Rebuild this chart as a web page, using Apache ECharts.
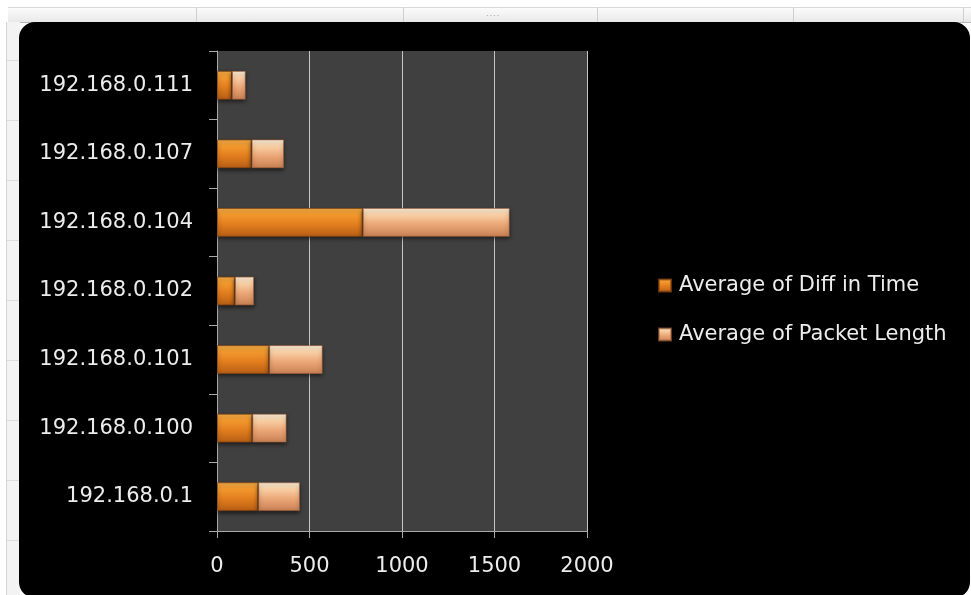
<!DOCTYPE html>
<html>
<head>
<meta charset="utf-8">
<script src="https://cdn.jsdelivr.net/npm/echarts@6/dist/echarts.min.js"></script>
<style>
  html, body { margin:0; padding:0; background:#ffffff; width:971px; height:595px; overflow:hidden; }
  .topband { position:absolute; left:8px; top:7px; width:963px; height:14px; background:linear-gradient(#fbfbfb,#e9e9e9); border-top:1px solid #d8d8d8; border-bottom:1px solid #b8b8b8; }
  .vl { position:absolute; top:7px; width:1px; height:15px; background:#cfcfcf; }
  .leftband { position:absolute; left:6px; top:22px; width:13px; height:573px; background:#f3f3f3; border-left:1px solid #d4d4d4; }
  .hl { position:absolute; left:7px; width:12px; height:1px; background:#dcdcdc; }
  .panel { position:absolute; left:19px; top:22px; width:951px; height:576px; background:#000; border-radius:16px; }
  .dots { position:absolute; left:486px; top:12px; font:8px "DejaVu Sans"; color:#999; letter-spacing:1px; }
  #chart { position:absolute; left:0; top:0; width:971px; height:595px; }
</style>
</head>
<body>
<div class="topband"></div>
<div class="vl" style="left:196px"></div>
<div class="vl" style="left:403px"></div>
<div class="vl" style="left:597px"></div>
<div class="vl" style="left:793px"></div>
<div class="vl" style="left:963px"></div>
<div class="dots">····</div>
<div class="leftband"></div>
<div class="hl" style="top:60px"></div>
<div class="hl" style="top:120px"></div>
<div class="hl" style="top:180px"></div>
<div class="hl" style="top:240px"></div>
<div class="hl" style="top:300px"></div>
<div class="hl" style="top:360px"></div>
<div class="hl" style="top:420px"></div>
<div class="hl" style="top:480px"></div>
<div class="hl" style="top:540px"></div>
<div class="panel"></div>
<div id="chart"></div>
<script>
const categories = ['192.168.0.1', '192.168.0.100', '192.168.0.101', '192.168.0.102', '192.168.0.104', '192.168.0.107', '192.168.0.111'];
const diffInTime = [223, 191, 282, 97, 788, 187, 81];
const packetLength = [225, 185, 289, 103, 794, 175, 74];
const seriesNames = ['Average of Diff in Time', 'Average of Packet Length'];
const xTicks = [0, 500, 1000, 1500, 2000];

const FONT = 'DejaVu Sans';
const TXT = '#ececec';

function vgrad(stops) {
  return new echarts.graphic.LinearGradient(0, 0, 0, 1, stops.map((c) => ({ offset: c[0], color: c[1] })));
}
const colDiff = vgrad([[0, '#f7b04a'], [0.22, '#f39a2e'], [0.55, '#e47f1f'], [1, '#b65e14']]);
const colPkt = vgrad([[0, '#fff2df'], [0.22, '#f9d2a8'], [0.55, '#eda979'], [1, '#c98052']]);

const chart = echarts.init(document.getElementById('chart'), null, { renderer: 'canvas' });
chart.setOption({
  backgroundColor: 'transparent',
  animation: false,
  textStyle: { fontFamily: FONT },
  grid: {
    left: 217, right: 384, top: 51, bottom: 64,
    show: true, backgroundColor: '#404040', borderWidth: 0
  },
  legend: {
    orient: 'vertical',
    left: 658, top: 275, padding: 0,
    itemWidth: 12, itemHeight: 12, itemGap: 28,
    icon: 'rect',
    textStyle: { color: TXT, fontSize: 21, fontFamily: FONT, lineHeight: 21, padding: [0, 0, 0, 3] },
    data: seriesNames
  },
  xAxis: {
    type: 'value',
    min: xTicks[0], max: xTicks[xTicks.length - 1], interval: xTicks[1] - xTicks[0],
    axisLine: { show: true, lineStyle: { color: '#a8a8a8', width: 1 } },
    axisTick: { show: true, length: 7, lineStyle: { color: '#a8a8a8' } },
    splitLine: { show: true, lineStyle: { color: '#c4c4c4', width: 1 } },
    axisLabel: { color: TXT, fontSize: 21, fontFamily: FONT, margin: 25, formatter: (v) => String(v) }
  },
  yAxis: {
    type: 'category',
    data: categories,
    axisLine: { show: true, lineStyle: { color: '#a8a8a8', width: 1 } },
    axisTick: { show: true, length: 8, lineStyle: { color: '#a8a8a8' } },
    splitLine: { show: false },
    axisLabel: { color: TXT, fontSize: 21, fontFamily: FONT, margin: 24, padding: [4, 0, 0, 0] }
  },
  series: [
    {
      name: seriesNames[0], type: 'bar', stack: 'total', data: diffInTime,
      barWidth: '42%',
      itemStyle: { color: colDiff, borderColor: 'rgba(140,70,15,0.7)', borderWidth: 1,
        shadowColor: 'rgba(0,0,0,0.6)', shadowBlur: 4, shadowOffsetY: 2 }
    },
    {
      name: seriesNames[1], type: 'bar', stack: 'total', data: packetLength,
      barWidth: '42%',
      itemStyle: { color: colPkt, borderColor: 'rgba(170,100,60,0.6)', borderWidth: 1,
        shadowColor: 'rgba(0,0,0,0.6)', shadowBlur: 4, shadowOffsetY: 2 }
    }
  ]
});
</script>
</body>
</html>
